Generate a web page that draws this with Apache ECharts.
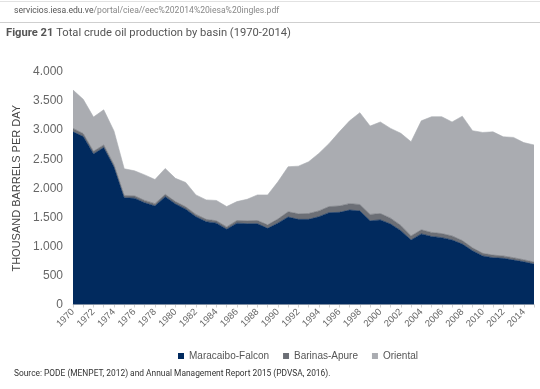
<!DOCTYPE html>
<html>
<head>
<meta charset="utf-8">
<script src="https://cdn.jsdelivr.net/npm/echarts@6/dist/echarts.min.js"></script>
<style>html,body{margin:0;padding:0;background:#fff;}#c{width:540px;height:389px;}</style>
</head>
<body>
<div id="c"></div>
<script>
const years = ["1970","1971","1972","1973","1974","1975","1976","1977","1978","1979","1980","1981","1982","1983","1984","1985","1986","1987","1988","1989","1990","1991","1992","1993","1994","1995","1996","1997","1998","1999","2000","2001","2002","2003","2004","2005","2006","2007","2008","2009","2010","2011","2012","2013","2014","2015"];
const maracaibo = [2970,2890,2590,2700,2365,1835,1830,1750,1695,1855,1730,1640,1510,1425,1400,1295,1400,1390,1390,1310,1400,1505,1465,1465,1510,1580,1585,1625,1610,1440,1455,1385,1270,1110,1215,1170,1150,1110,1040,925,835,805,795,765,735,695];
const barinas = [60,50,45,45,40,40,40,40,40,40,40,40,40,40,40,40,45,50,55,60,70,90,95,100,100,105,110,110,110,110,110,100,90,70,70,70,70,70,60,50,45,45,40,40,35,35];
const oriental = [660,590,590,605,580,460,430,440,415,445,400,420,335,335,350,350,325,370,440,515,640,775,820,890,990,1085,1275,1425,1580,1520,1575,1545,1585,1620,1875,1990,2010,1960,2140,2015,2080,2120,2050,2070,2015,2015];
const seriesNames = ["Maracaibo-Falcon","Barinas-Apure","Oriental"];
const titleBold = "Figure 21";
const titleText = " Total crude oil production by basin (1970-2014)";
const yAxisName = "THOUSAND BARRELS PER DAY";
const urlHost = "servicios.iesa.edu.ve";
const urlPath = "/portal/ciea//eec%202014%20iesa%20ingles.pdf";
const sourceText = "Source: PODE (MENPET, 2012) and Annual Management Report 2015 (PDVSA, 2016).";

const colors = ["#012a5e","#6c6f76","#aaacb1"];
const chart = echarts.init(document.getElementById('c'));
function fmt(v){ return String(v).replace(/\B(?=(\d{3})+(?!\d))/g, '.'); }
function mk(name, data, color){
  return {name, type:'line', stack:'total', data, symbol:'none', smooth:false,
    lineStyle:{width:0.6,color:color}, itemStyle:{color}, areaStyle:{color, opacity:1}};
}
chart.setOption({
  animation:false,
  backgroundColor:'#fff',
  color: colors,
  grid:{left:73,right:6,top:72,bottom:84.5},
  graphic:[
    {type:'line', shape:{x1:0,y1:1.5,x2:540,y2:1.5}, style:{stroke:'#e2e2e2',lineWidth:1}},
    {type:'line', shape:{x1:0,y1:22.5,x2:540,y2:22.5}, style:{stroke:'#cfcfcf',lineWidth:1}},
    {type:'text', left:14, top:6, style:{
      text:'{h|'+urlHost+'}{p|'+urlPath+'}',
      rich:{h:{fontFamily:'Roboto',fontSize:8.6,fill:'#555'},p:{fontFamily:'Roboto',fontSize:8.6,fill:'#888'}}}},
    {type:'text', left:6, top:28, style:{
      text:'{b|'+titleBold+'}{t|'+titleText+'}',
      rich:{b:{fontFamily:'Roboto',fontSize:11.2,fontWeight:'bold',fill:'#555'},t:{fontFamily:'Roboto',fontSize:11.2,fill:'#555'}}}},
    {type:'text', left:14, top:370, style:{text:sourceText, fontFamily:'Roboto', fontSize:8.4, fill:'#333'}}
  ],
  legend:{
    data:seriesNames, left:173, top:346, icon:'rect', itemWidth:6, itemHeight:6, itemGap:14,
    textStyle:{fontFamily:'Liberation Sans', fontSize:10, color:'#555'}
  },
  xAxis:{
    type:'category', data:years, boundaryGap:false,
    axisLine:{lineStyle:{color:'#d0d0d0'}},
    axisTick:{interval:0, length:3, lineStyle:{color:'#d0d0d0'}},
    axisLabel:{interval:1, rotate:45, fontFamily:'Liberation Sans', fontSize:9.5, color:'#666', margin:6}
  },
  yAxis:{
    type:'value', min:0, max:4000, interval:500,
    name:yAxisName, nameLocation:'middle', nameRotate:90, nameGap:50,
    nameTextStyle:{fontFamily:'Liberation Sans', fontSize:11, color:'#444'},
    axisLine:{show:false}, axisTick:{show:false}, splitLine:{show:false},
    axisLabel:{formatter:fmt, fontFamily:'Liberation Sans', fontSize:12, color:'#666', margin:10}
  },
  series:[
    mk(seriesNames[0], maracaibo, colors[0]),
    mk(seriesNames[1], barinas, colors[1]),
    mk(seriesNames[2], oriental, colors[2])
  ]
});
</script>
</body>
</html>
